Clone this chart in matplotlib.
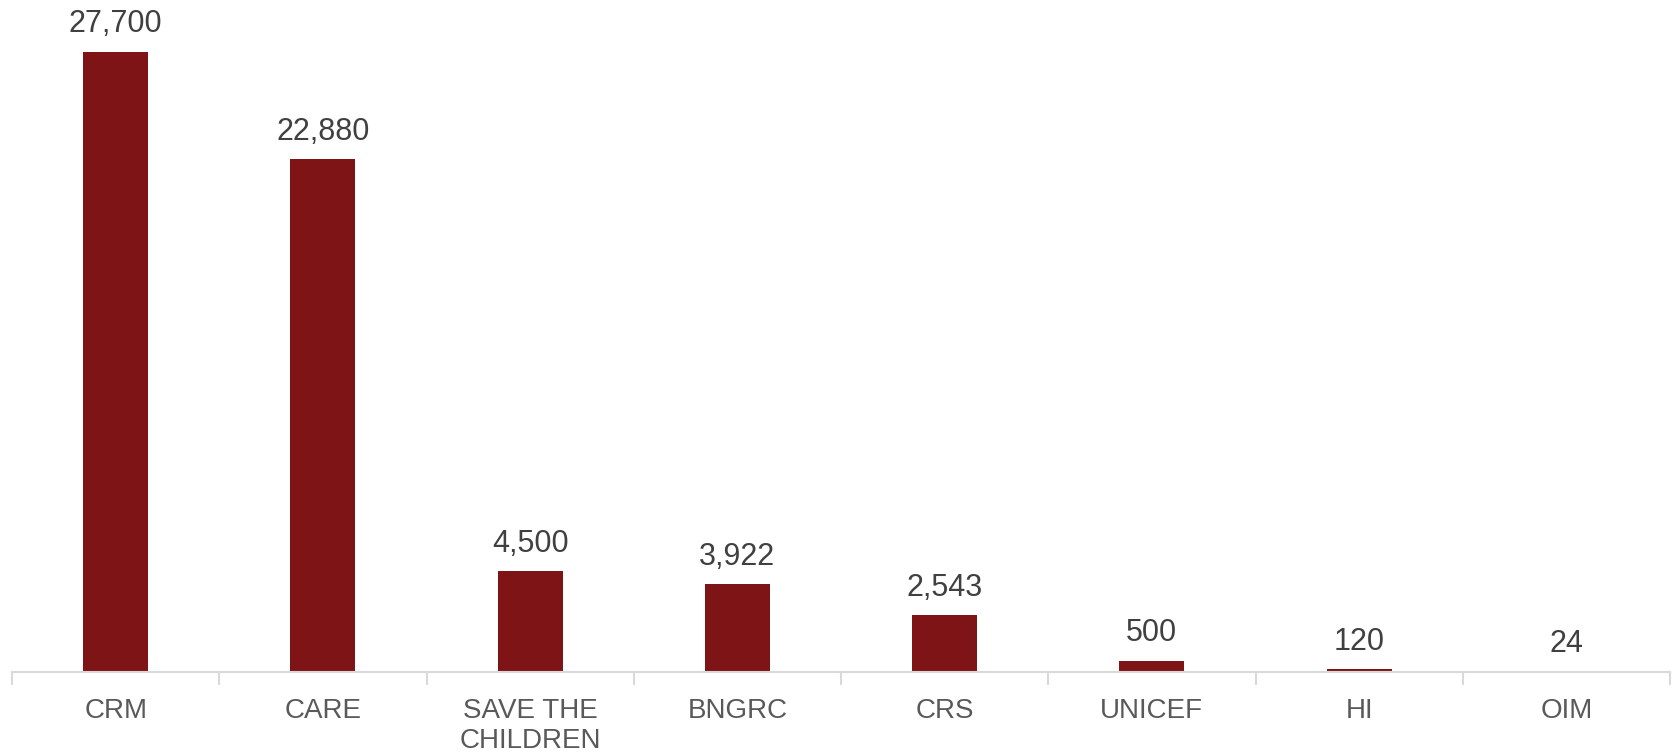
import matplotlib
matplotlib.use("Agg")
import matplotlib.pyplot as plt

categories = ["CRM", "CARE", "SAVE THE\nCHILDREN", "BNGRC", "CRS", "UNICEF", "HI", "OIM"]
values = [27700, 22880, 4500, 3922, 2543, 500, 120, 24]

BAR_COLOR = "#7F1416"
AXIS_COLOR = "#D9D9D9"

plt.rcParams["font.family"] = ["Liberation Sans", "DejaVu Sans"]

fig = plt.figure(figsize=(16.77, 7.53), dpi=100)
ax = fig.add_axes([12 / 1677, (753 - 672) / 753, (1670 - 12) / 1677, 672 / 753])

x = range(len(categories))
bars = ax.bar(x, values, width=0.314, color=BAR_COLOR)
ax.bar_label(bars, labels=[f"{v:,}" for v in values], padding=9,
             fontsize=22, color="#404040")

ax.set_xlim(-0.5, len(categories) - 0.5)
ax.set_ylim(0, 30000)

for side in ("top", "right", "left"):
    ax.spines[side].set_visible(False)
ax.spines["bottom"].set_color(AXIS_COLOR)
ax.spines["bottom"].set_linewidth(1.5)

ax.set_yticks([])
# ticks between categories
ax.set_xticks([i - 0.5 for i in range(len(categories) + 1)])
ax.set_xticklabels([])
ax.tick_params(axis="x", which="major", length=9, width=1.5, color=AXIS_COLOR)
ax.set_xticks(list(x), minor=True)
ax.set_xticklabels(categories, minor=True, fontsize=20, color="#595959",
                   linespacing=1.2)
ax.tick_params(axis="x", which="minor", length=0, pad=19)

fig.savefig("out.png", dpi=100)
